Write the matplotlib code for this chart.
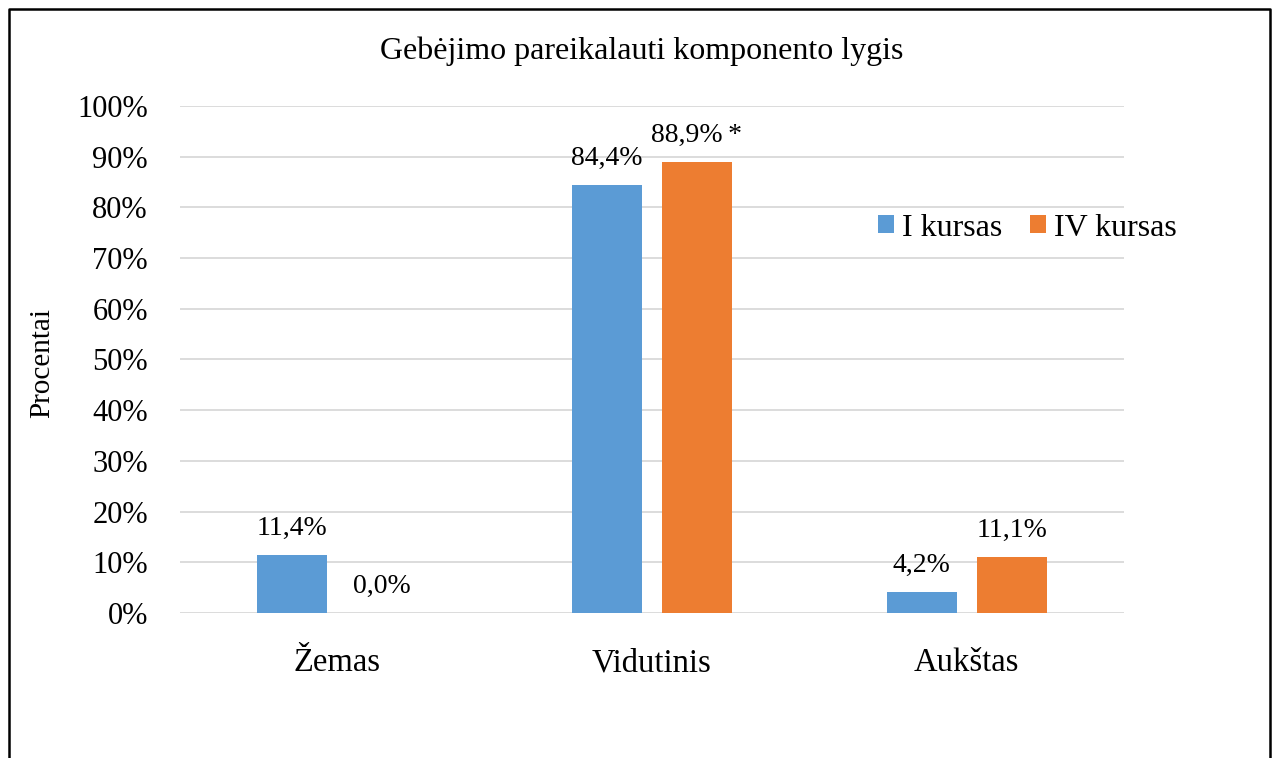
import matplotlib
matplotlib.use('Agg')
import numpy as np
from matplotlib import pyplot as plt
from matplotlib.lines import Line2D

categories = ['Žemas', 'Vidutinis', 'Aukštas']
series_names = ['I kursas', 'IV kursas']
i_kursas = [11.4, 84.4, 4.2]
iv_kursas = [0.0, 88.9, 11.1]
i_labels = ['11,4%', '84,4%', '4,2%']
iv_labels = ['0,0%', '88,9%\u2009*', '11,1%']
yticks = [0, 10, 20, 30, 40, 50, 60, 70, 80, 90, 100]

plt.rcParams['font.family'] = ['Liberation Serif', 'DejaVu Serif']

fig = plt.figure(figsize=(12.78, 7.58), dpi=100)
ax = fig.add_axes([0.1408, 0.1913, 0.7387, 0.6689])

x = np.arange(len(categories))
w = 0.222
gap = 0.0635
blue = ax.bar(x - (w + gap) / 2, i_kursas, w, color='#5B9BD5', label=series_names[0], zorder=3)
orange = ax.bar(x + (w + gap) / 2, iv_kursas, w, color='#ED7D31', label=series_names[1], zorder=3)

for bars, labels in ((blue, i_labels), (orange, iv_labels)):
    for b, lab in zip(bars, labels):
        ax.annotate(lab, (b.get_x() + b.get_width() / 2, b.get_height()),
                    xytext=(0, 10), textcoords='offset points',
                    ha='center', va='bottom', fontsize=20)

ax.set_xlim(-0.5, 2.5)
ax.set_ylim(0, 100)
ax.set_yticks(yticks)
ax.set_yticklabels([f'{t}%' for t in yticks], fontsize=22)
ax.set_xticks(x)
ax.set_xticklabels(categories, fontsize=23.5)
ax.tick_params(axis='both', length=0)
ax.tick_params(axis='y', pad=23)
ax.tick_params(axis='x', pad=25)
ax.grid(axis='y', color='#D9D9D9', linewidth=1.3, zorder=0)
for s in ax.spines.values():
    s.set_visible(False)

fig.text(42 / 1278, 0.5213, 'Procentai', rotation=90, ha='center', va='center', fontsize=21)
fig.text(0.502, 0.933, 'Gebėjimo pareikalauti komponento lygis', ha='center', va='center', fontsize=23)

fig.legend(handles=[blue, orange], loc='center', bbox_to_anchor=(0.804, 0.699),
           ncol=2, frameon=False, fontsize=23, handlelength=0.5, handleheight=0.5,
           handletextpad=0.25, columnspacing=0.85)

# outer frame (bottom edge is cut off in the original)
fig.add_artist(Line2D([0.0074, 0.0074, 0.9937, 0.9937], [0.0, 0.9875, 0.9875, 0.0],
                      transform=fig.transFigure, color='black', linewidth=1.8))

fig.savefig('out.png', dpi=100)
